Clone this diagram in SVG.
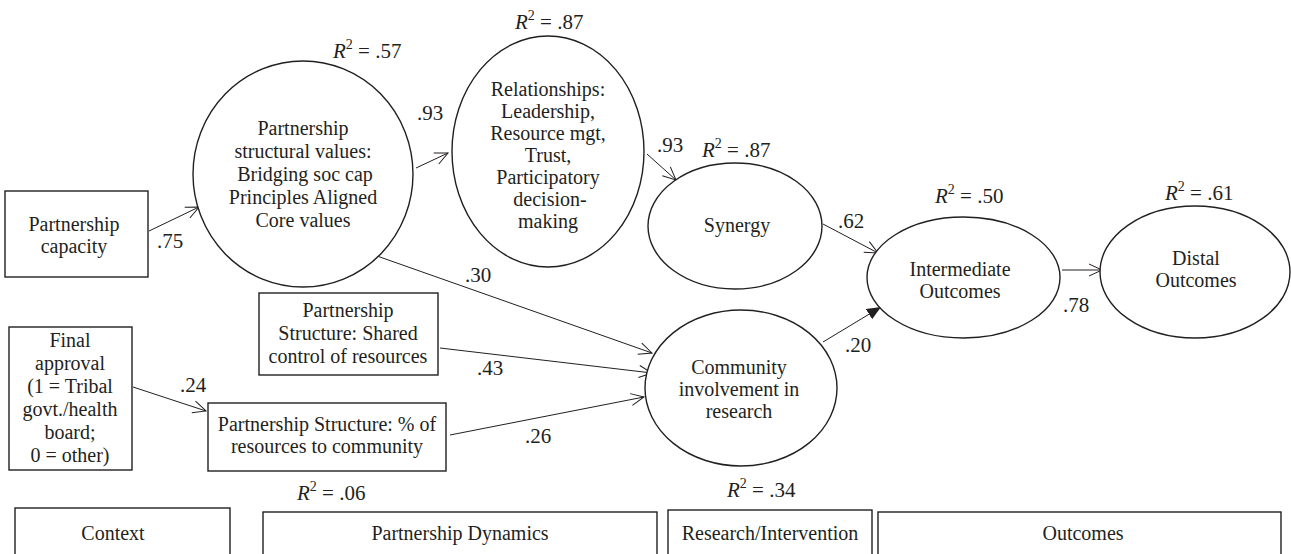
<svg xmlns="http://www.w3.org/2000/svg" width="1291" height="554" viewBox="0 0 1291 554">
<style>
text{font-family:"Liberation Serif","Times New Roman",serif;font-size:20px;fill:#231f20;text-anchor:middle}
.l{text-anchor:start;font-size:21px}
.shape{fill:#fff;stroke:#231f20;stroke-width:1.4}
.edge{stroke:#231f20;stroke-width:1;fill:none}
</style>
<defs>
<marker id="open" markerUnits="userSpaceOnUse" markerWidth="16" markerHeight="14" viewBox="0 0 16 14" refX="14" refY="7" orient="auto">
<path d="M1,1 L14,7 L1,13" fill="none" stroke="#231f20" stroke-width="1"/>
</marker>
<marker id="fill" markerUnits="userSpaceOnUse" markerWidth="16" markerHeight="14" viewBox="0 0 16 14" refX="14" refY="7" orient="auto">
<path d="M0,1 L14,7 L0,13 z" fill="#231f20"/>
</marker>
</defs>
<g id="connectors">
<line class="edge" x1="149" y1="231" x2="199" y2="207" marker-end="url(#open)"/>
<line class="edge" x1="416" y1="168" x2="448" y2="153" marker-end="url(#open)"/>
<line class="edge" x1="647" y1="154" x2="676" y2="180" marker-end="url(#open)"/>
<line class="edge" x1="823" y1="224" x2="878" y2="253" marker-end="url(#open)"/>
<line class="edge" x1="1062" y1="270" x2="1102" y2="270" marker-end="url(#open)"/>
<line class="edge" x1="377" y1="256" x2="652" y2="353" marker-end="url(#open)"/>
<line class="edge" x1="440" y1="348" x2="652" y2="373" marker-end="url(#open)"/>
<line class="edge" x1="450" y1="435" x2="644" y2="397" marker-end="url(#open)"/>
<line class="edge" x1="133" y1="387" x2="206" y2="411" marker-end="url(#open)"/>
<line class="edge" x1="823" y1="342" x2="881" y2="307" marker-end="url(#fill)"/>
<text class="l" x="157" y="248">.75</text>
<text class="l" x="417" y="120">.93</text>
<text class="l" x="657" y="152">.93</text>
<text class="l" x="838" y="228">.62</text>
<text class="l" x="1063" y="312">.78</text>
<text class="l" x="465" y="282">.30</text>
<text class="l" x="477" y="375">.43</text>
<text class="l" x="525" y="443">.26</text>
<text class="l" x="180" y="392">.24</text>
<text class="l" x="845" y="352">.20</text>
</g>
<g id="partnership-capacity">
<rect class="shape" x="5" y="191" width="143" height="86"/>
<text x="74" y="231">Partnership</text>
<text x="74" y="253">capacity</text>
</g>
<g id="structural-values">
<ellipse class="shape" cx="303" cy="174" rx="110" ry="113"/>
<text x="303" y="135">Partnership</text>
<text x="303" y="158">structural values:</text>
<text x="305" y="181">Bridging soc cap</text>
<text x="303" y="204">Principles Aligned</text>
<text x="303" y="227">Core values</text>
<text class="l" x="333" y="58"><tspan font-style="italic">R</tspan><tspan font-size="14" dy="-9">2</tspan><tspan dy="9"> = .57</tspan></text>
</g>
<g id="relationships">
<ellipse class="shape" cx="548" cy="151.5" rx="96" ry="115.5"/>
<text x="548" y="96">Relationships:</text>
<text x="548" y="118">Leadership,</text>
<text x="548" y="140">Resource mgt,</text>
<text x="548" y="162">Trust,</text>
<text x="548" y="184">Participatory</text>
<text x="550" y="206">decision-</text>
<text x="548" y="228">making</text>
<text class="l" x="515" y="29"><tspan font-style="italic">R</tspan><tspan font-size="14" dy="-9">2</tspan><tspan dy="9"> = .87</tspan></text>
</g>
<g id="synergy">
<ellipse class="shape" cx="735" cy="226" rx="87" ry="63"/>
<text x="737" y="232">Synergy</text>
<text class="l" x="702" y="157"><tspan font-style="italic">R</tspan><tspan font-size="14" dy="-9">2</tspan><tspan dy="9"> = .87</tspan></text>
</g>
<g id="intermediate-outcomes">
<ellipse class="shape" cx="963.5" cy="277.5" rx="96.5" ry="60.5"/>
<text x="960" y="276">Intermediate</text>
<text x="960" y="298">Outcomes</text>
<text class="l" x="935" y="203"><tspan font-style="italic">R</tspan><tspan font-size="14" dy="-9">2</tspan><tspan dy="9"> = .50</tspan></text>
</g>
<g id="distal-outcomes">
<ellipse class="shape" cx="1195" cy="272" rx="95" ry="66"/>
<text x="1196" y="265">Distal</text>
<text x="1196" y="287">Outcomes</text>
<text class="l" x="1165" y="200"><tspan font-style="italic">R</tspan><tspan font-size="14" dy="-9">2</tspan><tspan dy="9"> = .61</tspan></text>
</g>
<g id="community-involvement">
<ellipse class="shape" cx="741" cy="388" rx="96" ry="78"/>
<text x="739" y="374">Community</text>
<text x="739" y="396">involvement in</text>
<text x="739" y="418">research</text>
<text class="l" x="727" y="497"><tspan font-style="italic">R</tspan><tspan font-size="14" dy="-9">2</tspan><tspan dy="9"> = .34</tspan></text>
</g>
<g id="shared-control">
<rect class="shape" x="259" y="293" width="179" height="82"/>
<text x="348" y="317">Partnership</text>
<text x="348" y="340">Structure: Shared</text>
<text x="348" y="363">control of resources</text>
</g>
<g id="resources-to-community">
<rect class="shape" x="208" y="403" width="238" height="68"/>
<text x="327" y="431">Partnership Structure: % of</text>
<text x="327" y="453">resources to community</text>
<text class="l" x="297" y="500"><tspan font-style="italic">R</tspan><tspan font-size="14" dy="-9">2</tspan><tspan dy="9"> = .06</tspan></text>
</g>
<g id="final-approval">
<rect class="shape" x="9" y="327" width="123" height="143"/>
<text x="70" y="347">Final</text>
<text x="70" y="370">approval</text>
<text x="70" y="393">(1 = Tribal</text>
<text x="70" y="416">govt./health</text>
<text x="70" y="439">board;</text>
<text x="70" y="462">0 = other)</text>
</g>
<g id="context">
<rect class="shape" x="15" y="508" width="215" height="60"/>
<text x="113" y="540">Context</text>
</g>
<g id="partnership-dynamics">
<rect class="shape" x="263" y="512" width="394" height="60"/>
<text x="460" y="540">Partnership Dynamics</text>
</g>
<g id="research-intervention">
<rect class="shape" x="668" y="510" width="204" height="60"/>
<text x="770" y="540">Research/Intervention</text>
</g>
<g id="outcomes">
<rect class="shape" x="878" y="512" width="403" height="60"/>
<text x="1083" y="540">Outcomes</text>
</g>
</svg>
